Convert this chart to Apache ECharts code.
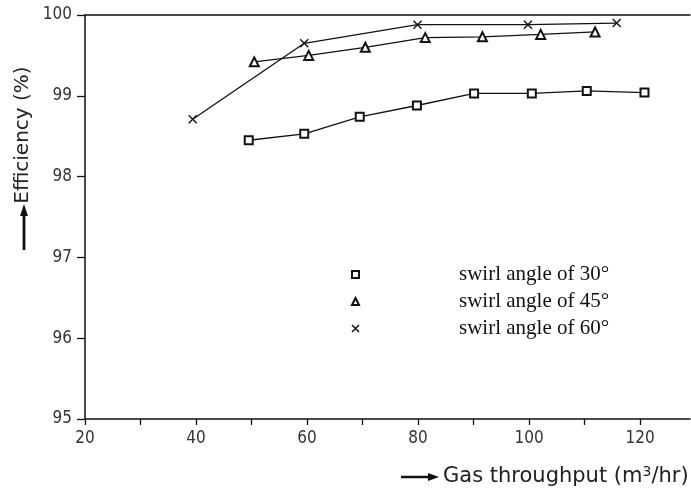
<!DOCTYPE html>
<html>
<head>
<meta charset="utf-8">
<script src="https://cdn.jsdelivr.net/npm/echarts@6/dist/echarts.min.js"></script>
<style>
html,body{margin:0;padding:0;background:#fff;}
#chart{width:691px;height:490px;}
</style>
</head>
<body>
<div id="chart"></div>
<script>
// ---- data ----
var seriesNames = ['swirl angle of 30°', 'swirl angle of 45°', 'swirl angle of 60°'];
var swirl30 = [[49.5, 98.45], [59.5, 98.53], [69.5, 98.74], [79.8, 98.88], [90.1, 99.03], [100.5, 99.03], [110.4, 99.06], [120.8, 99.04]];
var swirl45 = [[50.5, 99.42], [60.3, 99.50], [70.5, 99.60], [81.3, 99.72], [91.6, 99.73], [102.1, 99.76], [111.9, 99.79]];
var swirl60 = [[39.4, 98.71], [59.5, 99.65], [79.9, 99.88], [99.8, 99.88], [115.8, 99.90]];
var xTickLabels = [20, 40, 60, 80, 100, 120];
var xTicks = [20, 30, 40, 50, 60, 70, 80, 90, 100, 110, 120];
var yTickLabels = [95, 96, 97, 98, 99, 100];
var xTitle = 'Gas throughput (m';
var yTitle = 'Efficiency (%)';

var crossPath = 'path://M0,0L10,10M10,0L0,10';
var tickFont = 'DejaVu Sans Condensed';
var titleFont = 'DejaVu Sans';

var chart = echarts.init(document.getElementById('chart'), null, {renderer: 'canvas'});

function mkSeries(name, data, symbol, size) {
  return {
    name: name,
    type: 'line',
    data: data,
    symbol: symbol,
    symbolSize: size,
    showAllSymbol: true,
    color: '#111',
    lineStyle: {color: '#111', width: 1.3},
    itemStyle: {color: '#111', borderColor: '#111', borderWidth: 1.4},
    animation: false,
    z: 3
  };
}

var option = {
  backgroundColor: '#fff',
  animation: false,
  grid: {left: 85, right: 1, top: 15, bottom: 71, containLabel: false},
  xAxis: [{
    type: 'value', min: 20, max: 129, interval: 10,
    axisLine: {show: true, lineStyle: {color: '#111', width: 1.5}},
    axisTick: {show: true, length: 6, customValues: xTicks, lineStyle: {color: '#111', width: 1.3}},
    axisLabel: {customValues: xTickLabels, margin: 11, color: '#333', fontFamily: tickFont, fontSize: 17},
    splitLine: {show: false}
  }, {
    type: 'value', min: 20, max: 129, position: 'top',
    axisLine: {show: true, onZero: false, lineStyle: {color: '#111', width: 1.5}},
    axisTick: {show: false}, axisLabel: {show: false}, splitLine: {show: false}
  }],
  yAxis: {
    type: 'value', min: 95, max: 100, interval: 1,
    axisLine: {show: true, lineStyle: {color: '#111', width: 1.5}},
    axisTick: {show: true, length: 8, customValues: yTickLabels, lineStyle: {color: '#111', width: 1.3}},
    axisLabel: {customValues: yTickLabels, margin: 13, color: '#333', fontFamily: tickFont, fontSize: 17},
    splitLine: {show: false}
  },
  legend: {
    orient: 'vertical',
    left: 346, top: 259,
    itemWidth: 7, itemHeight: 7, itemGap: 6,
    data: [
      {name: seriesNames[0], icon: 'emptyRect'},
      {name: seriesNames[1], icon: 'emptyTriangle'},
      {name: seriesNames[2], icon: crossPath}
    ],
    itemStyle: {color: '#111', borderColor: '#111', borderWidth: 1.5},
    textStyle: {fontFamily: 'Liberation Serif', fontSize: 21, color: '#111', lineHeight: 20, padding: [0, 0, 0, 95]}
  },
  series: [
    mkSeries(seriesNames[0], swirl30, 'emptyRect', 8),
    mkSeries(seriesNames[1], swirl45, 'emptyTriangle', 9),
    mkSeries(seriesNames[2], swirl60, crossPath, 8)
  ],
  graphic: [
    // x axis title with arrow
    {type: 'line', shape: {x1: 401, y1: 477, x2: 430, y2: 477}, style: {stroke: '#111', lineWidth: 2.5}},
    {type: 'polygon', shape: {points: [[428, 473], [439, 477], [428, 481]]}, style: {fill: '#111'}},
    {type: 'text', left: 443, top: 465, style: {
      text: '{a|' + xTitle + '}{s|3}{a|/hr)}',
      rich: {
        a: {fontFamily: titleFont, fontSize: 21, fill: '#222'},
        s: {fontFamily: titleFont, fontSize: 14, fill: '#222', verticalAlign: 'top', padding: [0, 0, 10, 0]}
      }
    }},
    // y axis title with arrow
    {type: 'text', x: 23, y: 135, rotation: Math.PI / 2, style: {
      text: yTitle, fontFamily: titleFont, fontSize: 20, fill: '#222',
      align: 'center', verticalAlign: 'middle'
    }},
    {type: 'line', shape: {x1: 24, y1: 250, x2: 24, y2: 214}, style: {stroke: '#111', lineWidth: 2.8}},
    {type: 'polygon', shape: {points: [[20, 216], [24, 204], [28, 216]]}, style: {fill: '#111'}}
  ]
};
chart.setOption(option);
</script>
</body>
</html>
